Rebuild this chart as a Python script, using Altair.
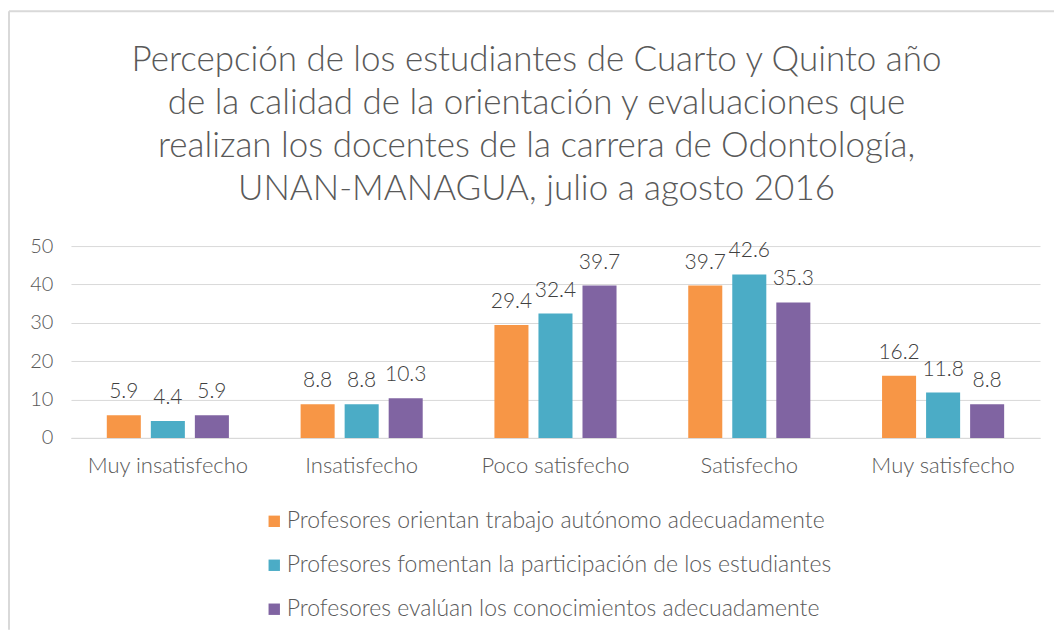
import altair as alt
import pandas as pd

categories = ["Muy insatisfecho", "Insatisfecho", "Poco satisfecho", "Satisfecho", "Muy satisfecho"]
series = [
    "Profesores orientan trabajo autónomo adecuadamente",
    "Profesores fomentan la participación de los estudiantes",
    "Profesores evalúan los conocimientos adecuadamente",
]
orienta = [5.9, 8.8, 29.4, 39.7, 16.2]
fomenta = [4.4, 8.8, 32.4, 42.6, 11.8]
evalua = [5.9, 10.3, 39.7, 35.3, 8.8]
colors = ["#F79646", "#4BACC6", "#8064A2"]
title_lines = [
    "Percepción  de los estudiantes de Cuarto y Quinto año",
    "de la calidad de  la orientación y evaluaciones que",
    "realizan los docentes de la carrera de Odontología,",
    "UNAN-MANAGUA, julio a agosto 2016",
]

rows = []
for s, vals in zip(series, [orienta, fomenta, evalua]):
    for c, v in zip(categories, vals):
        rows.append({"cat": c, "serie": s, "valor": v})
df = pd.DataFrame(rows)

FONT = "Lato"
TXT = "#595959"

x = alt.X("cat:N", sort=categories, title=None,
          scale=alt.Scale(paddingInner=0.37, paddingOuter=0.185),
          axis=alt.Axis(labelAngle=0, labelFontSize=22, labelColor=TXT, labelFont=FONT,
                        labelFontWeight=300,
                        ticks=False, domain=True, domainColor="#D9D9D9", labelPadding=18))
xo = alt.XOffset("serie:N", sort=series, scale=alt.Scale(paddingInner=0.227, paddingOuter=0))
y = alt.Y("valor:Q", title=None,
          scale=alt.Scale(domain=[0, 50]),
          axis=alt.Axis(values=[0, 10, 20, 30, 40, 50], labelFontSize=20, labelColor=TXT,
                        labelFont=FONT, labelFontWeight=300, ticks=False, domain=False,
                        gridColor="#D9D9D9", labelPadding=18))

base = alt.Chart(df)
bars = base.mark_bar().encode(
    x=x, xOffset=xo, y=y,
    color=alt.Color("serie:N", sort=series, scale=alt.Scale(domain=series, range=colors),
                    legend=alt.Legend(title=None, orient="none", legendX=192, legendY=264,
                                      direction="vertical", symbolType="square", symbolSize=130,
                                      symbolStrokeWidth=0,
                                      labelFontSize=23, labelColor=TXT, labelFont=FONT,
                                      labelFontWeight=300,
                                      rowPadding=20, labelLimit=800, labelOffset=1)),
)
labels = base.mark_text(dy=-23, fontSize=21, color="#404040", font=FONT, fontWeight=300).encode(
    x=x, xOffset=xo, y=y, text=alt.Text("valor:Q", format=".1f"),
)
edge = pd.DataFrame({"a": [0]})
left_line = alt.Chart(edge).mark_rule(color="#D9D9D9", strokeWidth=2, clip=False).encode(
    x=alt.value(-62), y=alt.value(-235), y2=alt.value(384))
top_line = alt.Chart(edge).mark_rule(color="#D9D9D9", strokeWidth=2, clip=False).encode(
    x=alt.value(-62), x2=alt.value(984), y=alt.value(-235))

chart = alt.layer(left_line, top_line, bars, labels).properties(
    width=970, height=192,
    padding={"left": 0, "top": 2, "right": 0, "bottom": 0},
    title=alt.TitleParams(title_lines, fontSize=35, font=FONT, color=TXT, fontWeight=300,
                          anchor="middle", offset=-197, lineHeight=43, dx=-19),
).configure_view(stroke=None)

chart.save("out.html", embed_options={"renderer": "svg", "actions": False})
